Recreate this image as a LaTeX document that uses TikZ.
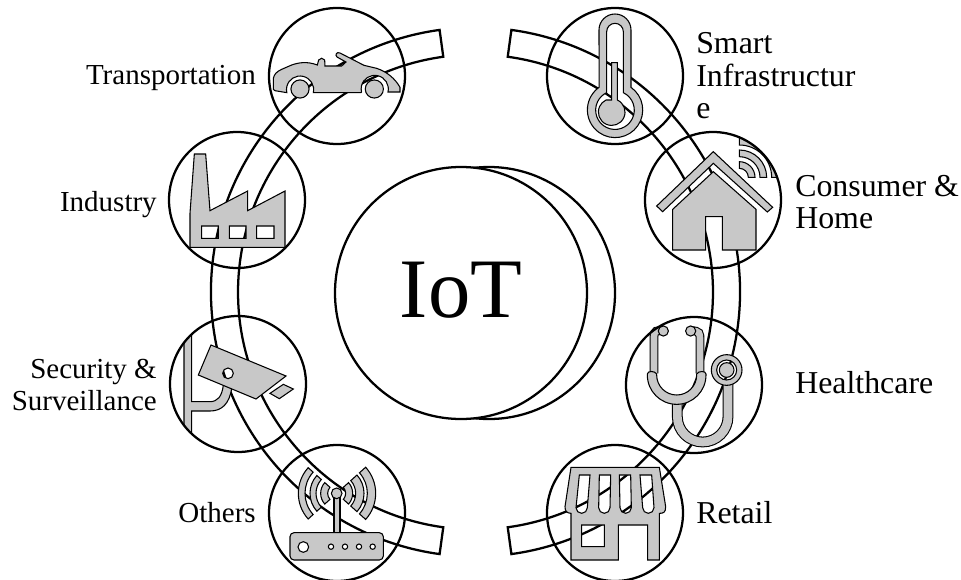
\documentclass[tikz,border=0pt]{standalone}
\usepackage{fontspec}
\setmainfont{Liberation Serif}
\definecolor{icongrey}{HTML}{C8C8C8}
\tikzset{
  mainline/.style={draw=black,line width=1.7pt},
  iconring/.style={circle,draw=black,line width=1.7pt,minimum size=102pt,inner sep=0pt},
  icon/.style={fill=icongrey,draw=black,line width=.8pt,even odd rule,line join=miter},
  tube/.style={draw=black,line width=#1*.25pt+1.6pt,postaction={draw=icongrey,line width=#1*.25pt}},
  lab/.style={font=\fontsize{21.75}{24.4}\selectfont,inner sep=0pt},
  labr/.style={font=\fontsize{23.9}{24.4}\selectfont,inner sep=0pt},
  zoomed/.style={x=.25pt,y=-.25pt}
}
\newcommand{\iconband}[6]{%
  \filldraw[icon] ([shift={(#5:#3*.25pt)}]#1,#2) arc[start angle=#5,end angle=#6,radius=#3*.25pt]
    -- ([shift={(#6:#4*.25pt)}]#1,#2) arc[start angle=#6,end angle=#5,radius=#4*.25pt] -- cycle;}
\begin{document}
\begin{tikzpicture}[x=.75pt,y=-.75pt]
\path[use as bounding box,fill=white] (0,0) rectangle (961,579);
\coordinate (ringc) at (475.5,292);
% ring
\draw[mainline] ([shift={(97.8:198.4pt)}]ringc) arc[start angle=97.8,end angle=262.2,radius=198.4pt]
  -- ([shift={(262.2:178.1pt)}]ringc) arc[start angle=262.2,end angle=97.8,radius=178.1pt] -- cycle;
\draw[mainline] ([shift={(82.2:198.4pt)}]ringc) arc[start angle=82.2,end angle=-82.2,radius=198.4pt]
  -- ([shift={(-82.2:178.1pt)}]ringc) arc[start angle=-82.2,end angle=82.2,radius=178.1pt] -- cycle;
% centre
\node[circle,mainline,fill=white,minimum size=189pt,inner sep=0pt] (back) at (489,293) {};
\node[circle,mainline,fill=white,minimum size=189pt,inner sep=0pt] (iot) at (461,293) {};
\node[inner sep=0pt,font=\fontsize{63.5}{70}\selectfont] (iotlabel) at (461,290.5) {IoT};
% car + factory
\begin{scope}[shift={(160,0)},zoomed]
\filldraw[icon] (340,268) -- (340,235) .. controls (343,222) and (350,215) .. (365,208) -- (395,195)
  .. controls (415,188) and (440,183) .. (472,195) -- (476,180) .. controls (480,173) and (490,173) .. (494,180)
  -- (495,198) -- (545,198) -- (558,186) -- (531,171) .. controls (524,165) and (530,154) .. (540,159)
  -- (612,196) -- (650,205) .. controls (680,215) and (705,235) .. (720,262) -- (720,276) -- (684,276)
  arc[start angle=-13,end angle=193,radius=10.2pt] -- (603,278) -- (460,278)
  arc[start angle=-13,end angle=193,radius=10.2pt] -- (345,272) -- cycle;
\filldraw[icon] (420,267) circle[radius=6.8pt];
\filldraw[icon] (643,267) circle[radius=6.8pt];
\filldraw[icon] (90,742) -- (90,640) -- (103,462) -- (137,462) -- (150,632) -- (263,573) -- (263,632) -- (375,573) -- (375,742) -- cycle
  (125,678) rectangle (175,715) (208,678) rectangle (258,715) (290,678) rectangle (342,715);
\end{scope}
% thermometer + home
\begin{scope}[shift={(500,0)},zoomed]
\filldraw[icon] (297,90) arc[start angle=180,end angle=0,radius=12pt] -- (393,262)
  arc[start angle=54.8,end angle=-234.8,radius=20.75pt] -- cycle
  (320,95) arc[start angle=180,end angle=0,radius=6.25pt] -- (370,278)
  arc[start angle=64.4,end angle=-244.4,radius=14.5pt] -- cycle;
\filldraw[icon] (335,300) -- (335,188) -- (352,188) -- (352,300) arc[start angle=65,end angle=-245,radius=10pt] -- cycle;
\filldraw[icon] (640,455) -- (818,622) -- (802,636) -- (640,490) -- (488,635) -- (470,618) -- cycle;
\filldraw[icon] (640,515) -- (768,628) -- (768,750) -- (667,750) -- (667,650) -- (617,650) -- (617,750) -- (518,750) -- (518,628) -- cycle;
\begin{scope}
\clip (640,600) circle[radius=51pt];
\iconband{718}{532}{27}{47}{0}{90}
\iconband{718}{532}{62}{82}{0}{90}
\iconband{718}{532}{97}{117}{0}{90}
\end{scope}
\end{scope}
% camera + router
\begin{scope}[shift={(160,300)},zoomed]
\begin{scope}
\clip (234,252) circle[radius=51pt];
\filldraw[icon] (72,90) -- (95,90) -- (95,305) -- (150,305) .. controls (172,305) and (186,290) .. (190,255)
  -- (215,265) .. controls (208,312) and (185,333) .. (150,333) -- (95,333) -- (95,420) -- (72,420) -- cycle;
\end{scope}
\filldraw[icon] (153,135) -- (378,228) -- (288,297) -- (115,225) -- cycle (204,220) circle[radius=4pt];
\filldraw[icon] (330,280) -- (370,253) -- (400,267) -- (358,296) -- cycle;
\iconband{530}{580}{27}{48}{138}{222}
\iconband{530}{580}{62}{80}{138}{222}
\iconband{530}{580}{95}{115}{138}{222}
\iconband{530}{580}{27}{48}{-42}{42}
\iconband{530}{580}{57}{82}{-42}{42}
\iconband{530}{580}{92}{117}{-42}{42}
\filldraw[icon] (522,590) -- (522,700) -- (540,700) -- (540,590) -- cycle;
\filldraw[icon] (530,580) circle[radius=4pt];
\filldraw[icon,rounded corners=3pt] (390,698) rectangle (670,780);
\filldraw[fill=white,draw=black,line width=.8pt] (430,741) circle[radius=4pt];
\foreach \hx in {513,555,597,638}{\filldraw[fill=white,draw=black,line width=.8pt] (\hx,740) circle[radius=2pt];}
\end{scope}
% stethoscope + shop
\begin{scope}[shift={(500,300)},zoomed]
\draw[tube=26] (532,300) -- (532,350) arc[start angle=180,end angle=360,radius=19pt] -- (684,240);
\filldraw[icon] (680,210) circle[radius=11.5pt] (680,210) circle[radius=7.5pt];
\filldraw[icon] (680,210) circle[radius=5.5pt];
\draw[tube=20] (478,92) .. controls (462,92) and (462,100) .. (462,120) -- (462,220);
\draw[tube=20] (572,92) .. controls (600,92) and (600,100) .. (600,120) -- (600,220);
\filldraw[icon] (490,93) circle[radius=3.8pt];
\filldraw[icon] (572,93) circle[radius=3.8pt];
\filldraw[icon] (442,225) arc[start angle=180,end angle=360,radius=22pt] -- (618,222)
  .. controls (618,212) and (595,212) .. (590,222) -- (590,225) arc[start angle=0,end angle=-180,radius=15pt]
  -- (470,222) .. controls (465,212) and (442,212) .. (442,222) -- cycle;
\filldraw[icon] (213,502) -- (478,502) -- (497,620) .. controls (497,638) and (490,640) .. (478,640)
  -- (478,780) -- (443,780) -- (443,675) -- (355,675) -- (355,780) -- (213,780) -- (213,640)
  .. controls (200,640) and (195,632) .. (195,620) -- cycle
  (238,525) -- (270,525) -- (262,623) arc[start angle=0,end angle=-180,radius=4.25pt] -- cycle
  (298,525) -- (332,525) -- (330,623) arc[start angle=0,end angle=-180,radius=4.25pt] -- cycle
  (358,525) -- (392,525) -- (394,623) arc[start angle=0,end angle=-180,radius=4.25pt] -- cycle
  (420,525) -- (455,525) -- (462,623) arc[start angle=0,end angle=-180,radius=4.25pt] -- cycle
  (245,675) rectangle (313,740);
\end{scope}
% rings of the icons
\node[iconring] (transport) at (337,76) {};
\node[iconring] (industry) at (237,200) {};
\node[iconring] (security) at (238,384) {};
\node[iconring] (others) at (337,513) {};
\node[iconring] (smart) at (615,76) {};
\node[iconring] (home) at (713,200) {};
\node[iconring] (health) at (694,385) {};
\node[iconring] (retail) at (615,513) {};
% labels
\node[lab,anchor=base east] (ltrans) at (256,84) {Transportation};
\node[lab,anchor=base east] (lind) at (157,211) {Industry};
\node[lab,anchor=east,align=right] (lsec) at (157,385) {Security \&\\Surveillance};
\node[lab,anchor=base east] (loth) at (256,522) {Others};
\node[labr,anchor=west,align=left] (lsmart) at (696,76) {Smart\\Infrastructur\\e};
\node[labr,anchor=west,align=left] (lhome) at (795,202) {Consumer \&\\Home};
\node[labr,anchor=base west] (lhealth) at (795,393) {Healthcare};
\node[labr,anchor=base west] (lret) at (696,523) {Retail};
\end{tikzpicture}
\end{document}
